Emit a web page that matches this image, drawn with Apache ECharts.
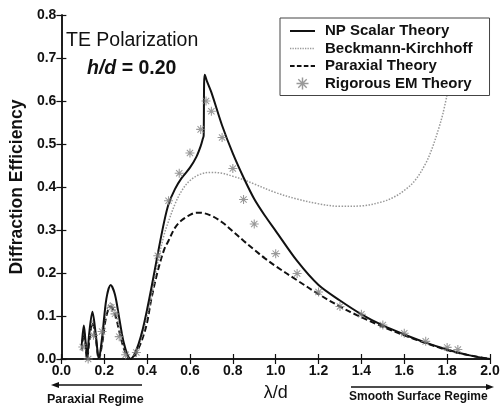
<!DOCTYPE html>
<html>
<head>
<meta charset="utf-8">
<script src="https://cdn.jsdelivr.net/npm/echarts@6/dist/echarts.min.js"></script>
<style>html,body{margin:0;padding:0;background:#fff;}#c{width:503px;height:407px;}</style>
</head>
<body>
<div id="c"></div>
<script>
// ---- Data ----
const npX = [0.095,0.1,0.105,0.112,0.12,0.13,0.145,0.16,0.175,0.19,0.21,0.23,0.25,0.27,0.29,0.31,0.323,0.34,0.36,0.38,0.4,0.42,0.45,0.48,0.5,0.53,0.56,0.6,0.63,0.65,0.66,0.664,0.666,0.669,0.68,0.7,0.75,0.8,0.85,0.9,0.95,1.0,1.1,1.2,1.3,1.4,1.5,1.6,1.7,1.8,1.9,2.0];
const npY = [0.03,0.06,0.078,0.045,0.0,0.06,0.11,0.06,0.0,0.05,0.14,0.172,0.15,0.095,0.04,0.008,0.0,0.01,0.035,0.07,0.115,0.165,0.245,0.32,0.36,0.395,0.42,0.445,0.47,0.495,0.512,0.52,0.64,0.661,0.645,0.62,0.543,0.478,0.422,0.372,0.333,0.298,0.228,0.172,0.136,0.104,0.078,0.057,0.038,0.022,0.009,0.0];

// Beckmann-Kirchhoff: visible part only (it continues upward behind the legend box)
const bkX = [0.095,0.1,0.105,0.112,0.12,0.13,0.145,0.16,0.175,0.19,0.21,0.23,0.25,0.27,0.29,0.31,0.323,0.34,0.36,0.38,0.4,0.42,0.45,0.48,0.5,0.53,0.56,0.6,0.65,0.7,0.75,0.8,0.85,0.9,1.0,1.1,1.2,1.3,1.4,1.5,1.55,1.6,1.65,1.7,1.73,1.76,1.78,1.8];
const bkY = [0.02,0.05,0.065,0.04,0.0,0.05,0.09,0.05,0.0,0.04,0.11,0.13,0.115,0.072,0.03,0.006,0.0,0.008,0.03,0.06,0.1,0.145,0.225,0.29,0.32,0.36,0.39,0.415,0.43,0.434,0.432,0.425,0.417,0.407,0.387,0.372,0.361,0.355,0.356,0.366,0.376,0.392,0.415,0.455,0.49,0.535,0.57,0.615];

const pxX = [0.095,0.1,0.105,0.112,0.12,0.13,0.145,0.16,0.175,0.19,0.21,0.23,0.25,0.27,0.29,0.31,0.323,0.34,0.36,0.38,0.4,0.42,0.45,0.48,0.5,0.53,0.56,0.6,0.63,0.65,0.7,0.75,0.8,0.85,0.9,0.95,1.0,1.1,1.2,1.3,1.4,1.5,1.6,1.7,1.8,1.9,2.0];
const pxY = [0.02,0.045,0.06,0.04,0.0,0.04,0.085,0.05,0.0,0.035,0.1,0.122,0.105,0.065,0.027,0.005,0.0,0.006,0.025,0.05,0.085,0.14,0.205,0.255,0.275,0.305,0.322,0.335,0.34,0.34,0.333,0.318,0.297,0.275,0.254,0.234,0.216,0.183,0.151,0.122,0.097,0.075,0.055,0.037,0.021,0.009,0.0];

const emX = [0.1,0.125,0.15,0.19,0.233,0.25,0.27,0.3,0.35,0.45,0.5,0.55,0.6,0.65,0.675,0.7,0.75,0.8,0.85,0.9,1.0,1.1,1.2,1.3,1.4,1.5,1.6,1.7,1.8,1.85];
const emY = [0.028,0.0,0.055,0.064,0.12,0.105,0.052,0.01,0.015,0.24,0.368,0.432,0.479,0.534,0.6,0.576,0.515,0.443,0.371,0.314,0.245,0.199,0.156,0.122,0.104,0.079,0.06,0.041,0.027,0.022];

const seriesNames = ['NP Scalar Theory','Beckmann-Kirchhoff','Paraxial Theory','Rigorous EM Theory'];
const xTicks = {min:0, max:2, step:0.2};
const yTicks = {min:0, max:0.8, step:0.1};

const zip = (xs, ys) => xs.map((x, i) => [x, ys[i]]);
const FONT = '"Liberation Sans", Arial, sans-serif';
const starPath = 'path://M4.4,0 h1.2 v10 h-1.2 z M0,4.4 h10 v1.2 h-10 z M1.1,1.9 L1.9,1.1 L8.9,8.1 L8.1,8.9 z M8.1,1.1 L8.9,1.9 L1.9,8.9 L1.1,8.1 z';

// legend icon paths (25 x 12 box, with tiny corner anchors so the box is not stretched)
const anchors = ' M0,0 h0.01 v0.01 h-0.01 z M24.99,11.99 h0.01 v0.01 h-0.01 z';
function segPath(len, gap, th) {
  let p = '';
  for (let x = 0; x < 25; x += len + gap) {
    const w = Math.min(len, 25 - x);
    p += 'M' + x + ',' + (6 - th / 2) + ' h' + w + ' v' + th + ' h' + (-w) + ' z ';
  }
  return 'path://' + p + anchors;
}
const iconSolid = segPath(25, 0, 1.8);
const iconDotted = segPath(1.3, 1.2, 1.3);
const iconDashed = segPath(4.6, 2.3, 1.8);

const chart = echarts.init(document.getElementById('c'), null, {renderer:'canvas'});
const axisLine = {show:true, lineStyle:{color:'#111', width:1.5}};
const tick = {show:true, inside:true, length:5, lineStyle:{color:'#111', width:1.2}};
const labelStyle = {color:'#111', fontFamily:FONT, fontWeight:'bold', fontSize:14};

chart.setOption({
  animation:false,
  backgroundColor:'#fff',
  grid:{left:53, right:13, top:15, bottom:46},
  xAxis:[
    {type:'value', min:xTicks.min, max:xTicks.max, interval:xTicks.step, position:'bottom',
     axisLine, axisTick:tick, splitLine:{show:false},
     axisLabel:Object.assign({margin:5, formatter:v=>v.toFixed(1)}, labelStyle),
     name:'λ/d', nameLocation:'middle', nameGap:25,
     nameTextStyle:{color:'#111', fontFamily:FONT, fontSize:18}},
    {type:'value', min:xTicks.min, max:xTicks.max, interval:xTicks.step, position:'top',
     axisLine, axisTick:tick, splitLine:{show:false}, axisLabel:{show:false}}
  ],
  yAxis:[
    {type:'value', min:yTicks.min, max:yTicks.max, interval:yTicks.step, position:'left',
     axisLine, axisTick:tick, splitLine:{show:false},
     axisLabel:Object.assign({margin:5, formatter:v=>v.toFixed(1)}, labelStyle),
     name:'Diffraction Efficiency', nameLocation:'middle', nameGap:29, nameRotate:90,
     nameTextStyle:{color:'#111', fontFamily:FONT, fontWeight:'bold', fontSize:17.5}},
    {type:'value', min:yTicks.min, max:yTicks.max, interval:yTicks.step, position:'right',
     axisLine, axisTick:tick, splitLine:{show:false}, axisLabel:{show:false}}
  ],
  legend:{
    z:20,
    data:[
      {name:seriesNames[0], icon:iconSolid, itemStyle:{color:'#111'}},
      {name:seriesNames[1], icon:iconDotted, itemStyle:{color:'#999'}},
      {name:seriesNames[2], icon:iconDashed, itemStyle:{color:'#111'}},
      {name:seriesNames[3], itemStyle:{color:'#808080'}}
    ],
    orient:'vertical', left:280, top:18,
    padding:[5,17,4,10], itemWidth:25, itemHeight:12, itemGap:1.5,
    borderColor:'#444', borderWidth:1, backgroundColor:'#fff',
    textStyle:{color:'#111', fontFamily:FONT, fontWeight:'bold', fontSize:15, lineHeight:16, padding:[0,0,0,5]}
  },
  series:[
    {name:seriesNames[2], type:'line', data:zip(pxX, pxY), symbol:'none', smooth:0.35,
     lineStyle:{color:'#111', width:2, type:[6,3]}, itemStyle:{color:'#111'}, z:2},
    {name:seriesNames[1], type:'line', data:zip(bkX, bkY), symbol:'none', smooth:0.35,
     lineStyle:{color:'#999', width:1.5, type:[1.5,1.5]}, itemStyle:{color:'#999'}, z:2},
    {name:seriesNames[0], type:'line', data:zip(npX, npY), symbol:'none', smooth:0.3,
     lineStyle:{color:'#111', width:2}, itemStyle:{color:'#111'}, z:3},
    {name:seriesNames[3], type:'scatter', data:zip(emX, emY), symbol:starPath, symbolSize:9,
     itemStyle:{color:'#808080'}, z:3}
  ],
  graphic:[
    {type:'text', left:66, top:31, style:{text:'TE Polarization', fill:'#111', font:'19.5px '+FONT}},
    {type:'text', left:87, top:59, style:{
      text:'{i|h/d}{b| = 0.20}', fill:'#111',
      rich:{i:{fontFamily:FONT, fontSize:19.5, fontWeight:'bold', fontStyle:'italic', fill:'#111'},
            b:{fontFamily:FONT, fontSize:19.5, fontWeight:'bold', fill:'#111'}}}},
    {type:'line', shape:{x1:142, y1:385, x2:57, y2:385}, style:{stroke:'#111', lineWidth:1.5}},
    {type:'polygon', shape:{points:[[51,385],[59,382],[59,388]]}, style:{fill:'#111'}},
    {type:'text', left:47, top:393, style:{text:'Paraxial Regime', fill:'#111', font:'bold 12.5px '+FONT}},
    {type:'line', shape:{x1:351, y1:387, x2:487, y2:387}, style:{stroke:'#111', lineWidth:1.5}},
    {type:'polygon', shape:{points:[[494,387],[486,384],[486,390]]}, style:{fill:'#111'}},
    {type:'text', left:349, top:391, style:{text:'Smooth Surface Regime', fill:'#111', font:'bold 12px '+FONT}}
  ]
});
</script>
</body>
</html>
